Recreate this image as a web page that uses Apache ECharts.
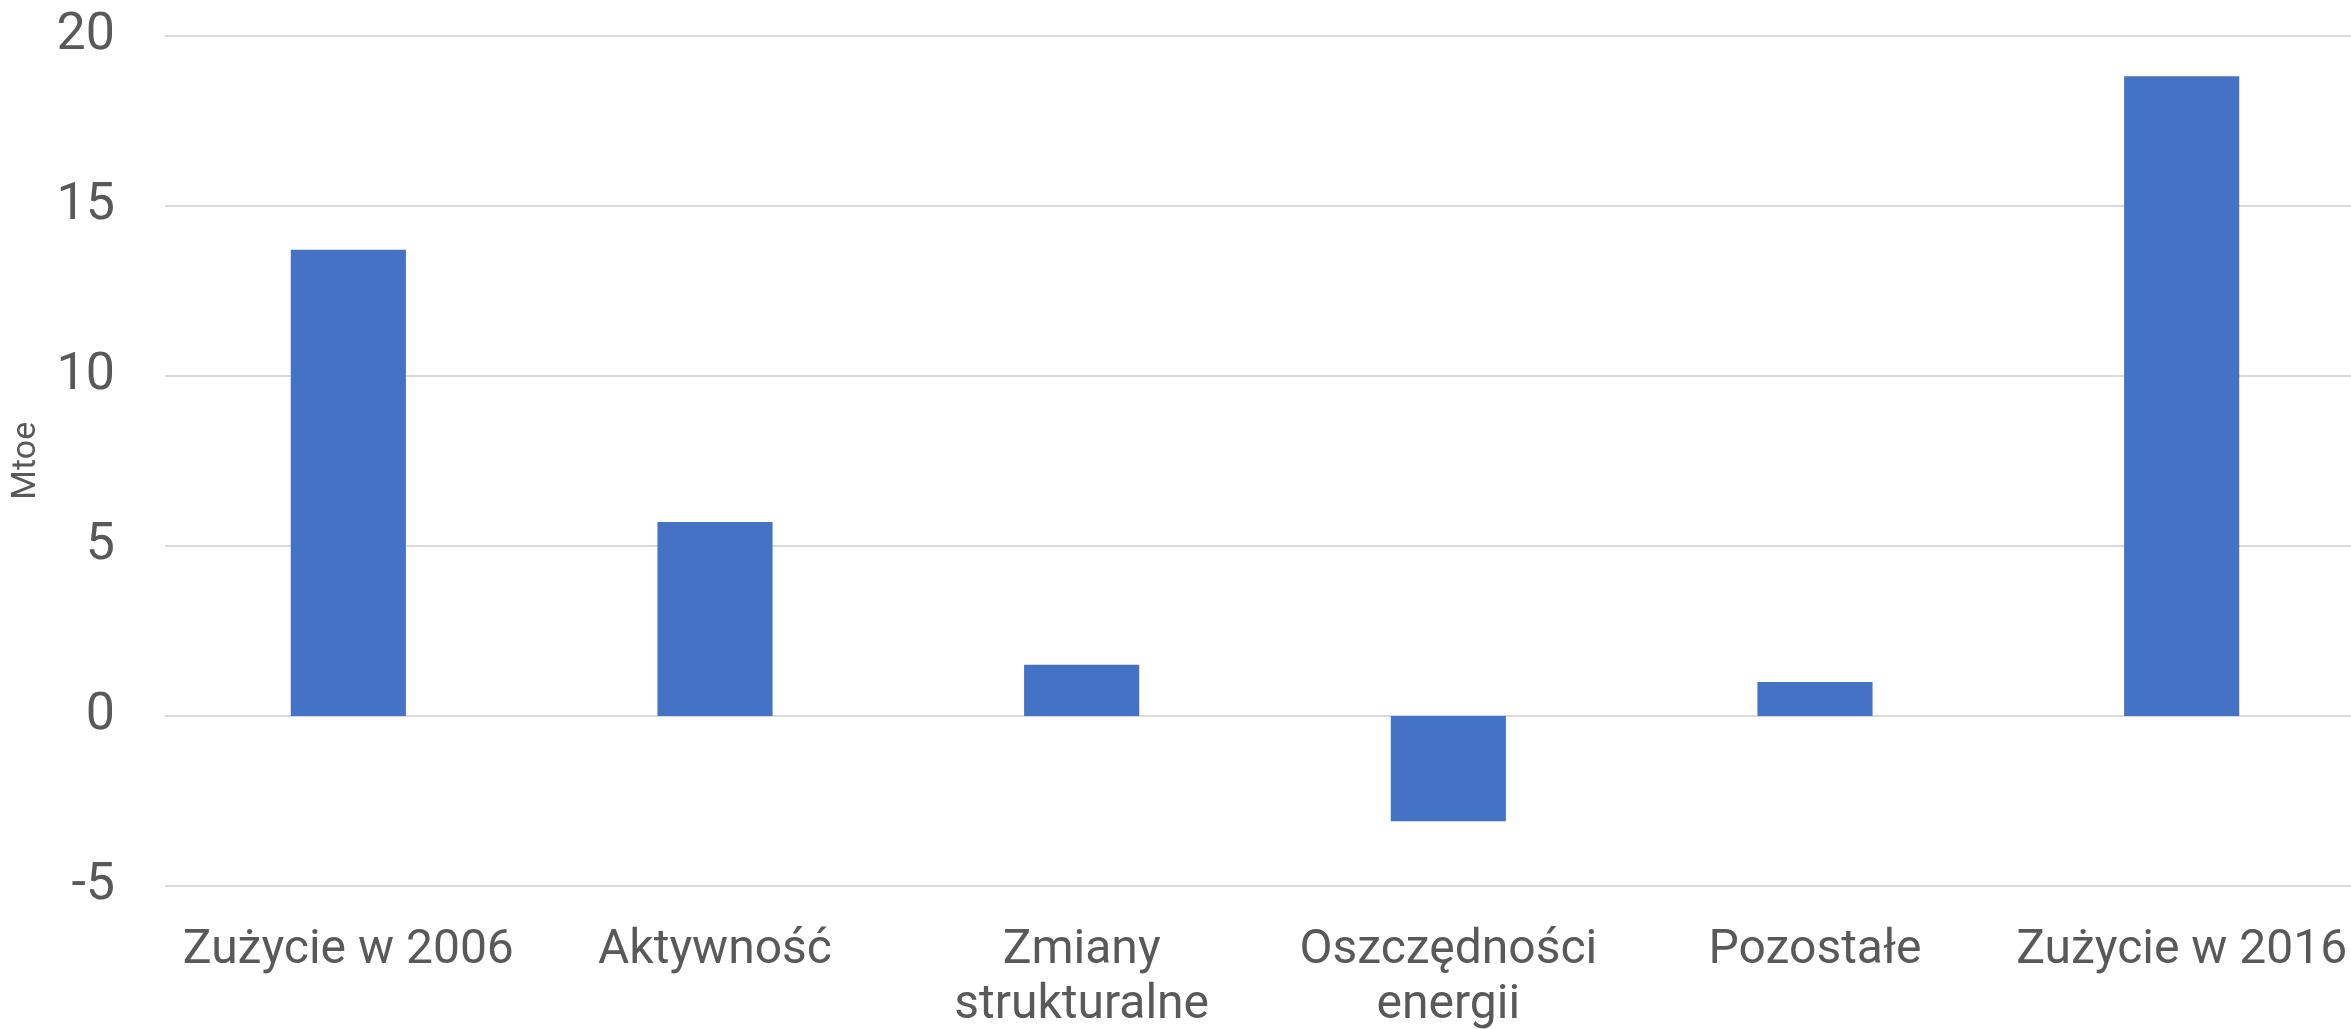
<!DOCTYPE html>
<html>
<head>
<meta charset="utf-8">
<script src="https://cdn.jsdelivr.net/npm/echarts@6/dist/echarts.min.js"></script>
<style>
    html, body { margin: 0; padding: 0; background: #fff; }
    #chart { width: 2351px; height: 1029px; }
</style>
</head>
<body>
<div id="chart"></div>
<script>
// dane (Mtoe)
const categories = ['Zużycie w 2006', 'Aktywność', 'Zmiany\nstrukturalne', 'Oszczędności\nenergii', 'Pozostałe', 'Zużycie w 2016'];
const values = [13.7, 5.7, 1.5, -3.1, 1.0, 18.8];
const yTicks = { min: -5, max: 20, interval: 5 };

const textColor = '#595959';
const fontName = 'Roboto, "Noto Sans", sans-serif';

const chart = echarts.init(document.getElementById('chart'));
chart.setOption({
    animation: false,
    // obszar wykresu wychodzi lekko poza prawą krawędź, jak w oryginale
    grid: { left: 165, right: -14, top: 35.5, bottom: 143, outerBoundsMode: 'none' },
    xAxis: {
        type: 'category',
        data: categories,
        axisLine: { show: false, onZero: false },
        axisTick: { show: false },
        axisLabel: {
            color: textColor,
            fontSize: 48,
            fontFamily: fontName,
            lineHeight: 55,
            margin: 37,
            interval: 0
        }
    },
    yAxis: {
        type: 'value',
        min: yTicks.min,
        max: yTicks.max,
        interval: yTicks.interval,
        name: 'Mtoe',
        nameLocation: 'middle',
        nameGap: 122,
        nameRotate: 90,
        nameTextStyle: { color: textColor, fontSize: 34, fontFamily: fontName },
        axisLine: { show: false },
        axisTick: { show: false },
        axisLabel: { color: textColor, fontSize: 52, fontFamily: fontName, margin: 50 },
        splitLine: { lineStyle: { color: '#d9d9d9', width: 2 } }
    },
    series: [{
        type: 'bar',
        data: values,
        barWidth: '31.4%',
        itemStyle: { color: '#4472c4' }
    }]
});
</script>
</body>
</html>
